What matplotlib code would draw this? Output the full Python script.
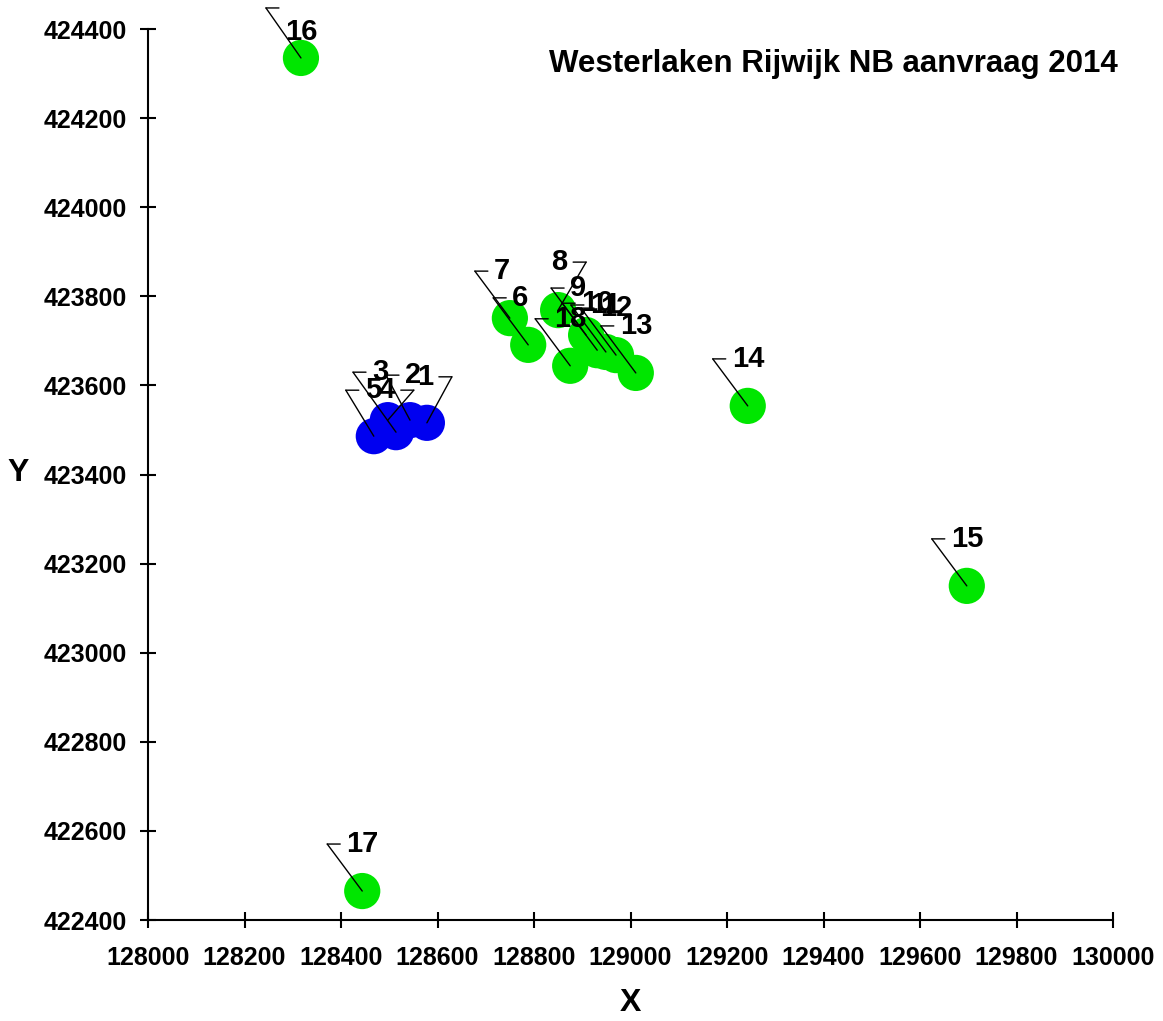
import matplotlib
matplotlib.use('Agg')
import matplotlib.pyplot as plt
from matplotlib.transforms import Affine2D

plt.rcParams['font.family'] = ['Liberation Sans', 'DejaVu Sans']
plt.rcParams['font.weight'] = 'bold'

# --- data ---
labels = ['1', '2', '3', '4', '5', '6', '7', '8', '9', '10', '11', '12', '13', '14', '15', '16', '17', '18']
x_vals = [128578, 128543, 128514, 128497, 128468, 128788, 128750, 128850, 128908,
          128931, 128949, 128970, 129011, 129243, 129697, 128317, 128444, 128875]
y_vals = [423516, 423522, 423495, 423522, 423486, 423691, 423751, 423769, 423713,
          423679, 423675, 423668, 423628, 423554, 423150, 424335, 422465, 423644]
groups = ['aanvraag'] * 5 + ['overig'] * 13
group_colors = {'aanvraag': '#0000f0', 'overig': '#00e600'}

x_ticks = [128000, 128200, 128400, 128600, 128800, 129000, 129200, 129400, 129600, 129800, 130000]
y_ticks = [422400, 422600, 422800, 423000, 423200, 423400, 423600, 423800, 424000, 424200, 424400]
title = 'Westerlaken Rijwijk NB aanvraag 2014'

# label leader layout in pixels: (dx, dy, side, text_dy)
DEFAULT_MARK = (-35, 47, 1, 0)
mark_layout = {
    '1': (25, 46, -1, 0),
    '2': (-24, 45, 1, 0),
    '3': (-43, 60, 1, 0),
    '4': (26, 30, -1, 0),
    '5': (-28, 46, 1, 0),
    '8': (28, 48, -1, 0),
    '16': (-35, 50, 1, -24),
}
TICK_LEN = 13
TEXT_GAP = 6

fig = plt.figure(figsize=(11.63, 10.21), dpi=100, facecolor='white')
ax = fig.add_axes([148 / 1163, 101 / 1021, 965 / 1163, 891 / 1021])

for g, col in group_colors.items():
    xs = [x for x, gg in zip(x_vals, groups) if gg == g]
    ys = [y for y, gg in zip(y_vals, groups) if gg == g]
    ax.scatter(xs, ys, s=680, color=col, edgecolors='none', zorder=2, clip_on=False)

line_kw = dict(arrowstyle='-', shrinkA=0, shrinkB=0, lw=1.0, color='black')
for lbl, x, y in zip(labels, x_vals, y_vals):
    dx, dy, side, tdy = mark_layout.get(lbl, DEFAULT_MARK)
    # diagonal leader from point to elbow
    ax.annotate('', xy=(x, y), xytext=(dx, dy), textcoords='offset pixels',
                arrowprops=line_kw, zorder=3, annotation_clip=False)
    # short horizontal tick at the elbow
    elbow = ax.transData + Affine2D().translate(dx, dy)
    ax.annotate('', xy=(x, y), xycoords=elbow, xytext=(side * TICK_LEN, 0),
                textcoords='offset pixels', arrowprops=line_kw, zorder=3,
                annotation_clip=False)
    ax.annotate(lbl, xy=(x, y), xytext=(dx + side * (TICK_LEN + TEXT_GAP), dy + tdy),
                textcoords='offset pixels', ha='left' if side > 0 else 'right',
                va='center', fontsize=21, fontweight='bold', zorder=4,
                annotation_clip=False)

ax.set_xlim(x_ticks[0], x_ticks[-1])
ax.set_ylim(y_ticks[0], y_ticks[-1])
ax.set_xticks(x_ticks)
ax.set_yticks(y_ticks)
ax.set_xticklabels([str(t) for t in x_ticks])
ax.set_yticklabels([str(t) for t in y_ticks])

for s in ['top', 'right']:
    ax.spines[s].set_visible(False)
for s in ['left', 'bottom']:
    ax.spines[s].set_linewidth(1.5)

ax.tick_params(axis='both', direction='inout', length=12, width=1.5, labelsize=18)
ax.tick_params(axis='x', pad=13)
ax.tick_params(axis='y', pad=9)

ax.set_xlabel('X', fontsize=23, fontweight='bold', va='center')
ax.set_ylabel('Y', fontsize=23, fontweight='bold', rotation=0, ha='center', va='center')
ax.xaxis.set_label_coords(0.5, -0.093)
ax.yaxis.set_label_coords(-0.135, 0.502)

ax.text(1.005, 0.961, title, transform=ax.transAxes, ha='right', va='center',
        fontsize=22.5, fontweight='bold')

fig.savefig('out.png', dpi=100)
